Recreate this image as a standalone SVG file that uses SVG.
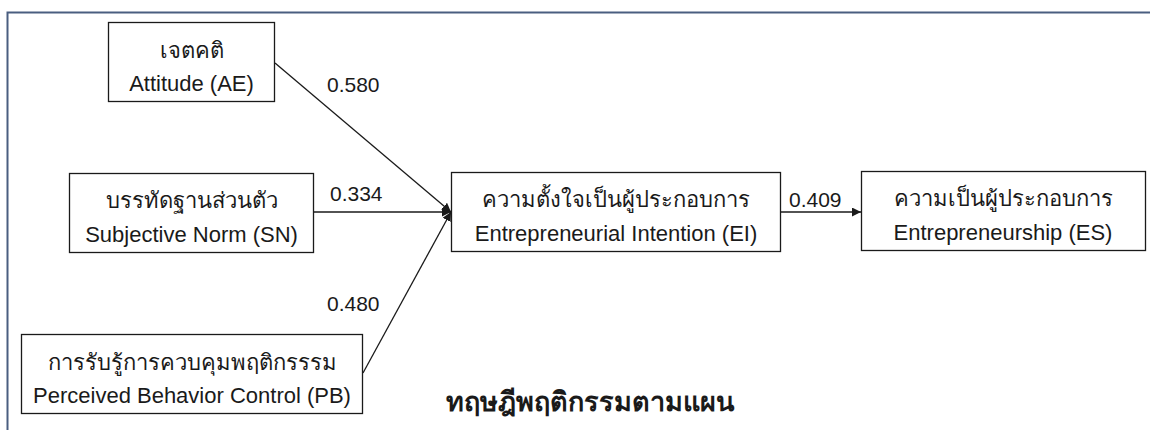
<svg xmlns="http://www.w3.org/2000/svg" width="1150" height="430" viewBox="0 0 1150 430">
<style>
.box{fill:#fff;stroke:#1a1a1a;stroke-width:1.3}
.t{font-family:"Liberation Sans","Noto Sans",sans-serif;font-size:22px;fill:#1a1a1a;text-anchor:middle}
.n{font-family:"Liberation Sans","Noto Sans",sans-serif;font-size:21px;fill:#1a1a1a}
.c{stroke:#1a1a1a;stroke-width:1.3;fill:none;marker-end:url(#ah)}
</style>
<defs>
<marker id="ah" viewBox="0 0 10 10" refX="10" refY="5" markerWidth="9" markerHeight="9" markerUnits="userSpaceOnUse" orient="auto">
<path d="M0,0 L10,5 L0,10 z" fill="#1a1a1a"/>
</marker>
</defs>
<rect width="1150" height="430" fill="#fff"/>
<path d="M7.5,430 V12.5 H1150" fill="none" stroke="#4a5e80" stroke-width="2"/>
<g id="connectors">
<line class="c" x1="275" y1="63" x2="451" y2="212"/>
<line class="c" x1="313" y1="212" x2="451" y2="212"/>
<line class="c" x1="363" y1="373" x2="451" y2="212"/>
<line class="c" x1="781" y1="212" x2="861" y2="212"/>
<text class="n" x="327" y="92">0.580</text>
<text class="n" x="330" y="201">0.334</text>
<text class="n" x="327" y="311">0.480</text>
<text class="n" x="789" y="207">0.409</text>
</g>
<g id="AE">
<rect class="box" x="108.5" y="22.5" width="166" height="79"/>
<text class="t" x="191.5" y="58">เจตคติ</text>
<text class="t" x="191.5" y="91">Attitude (AE)</text>
</g>
<g id="SN">
<rect class="box" x="69.5" y="173.5" width="244" height="79"/>
<text class="t" x="191.5" y="208">บรรทัดฐานส่วนตัว</text>
<text class="t" x="191.5" y="242">Subjective Norm (SN)</text>
</g>
<g id="PB">
<rect class="box" x="21.5" y="334.5" width="341" height="79"/>
<text class="t" x="192" y="370">การรับรู้การควบคุมพฤติกรรรม</text>
<text class="t" x="192" y="403">Perceived Behavior Control (PB)</text>
</g>
<g id="EI">
<rect class="box" x="451.5" y="172.5" width="329" height="79"/>
<text class="t" x="616" y="207">ความตั้งใจเป็นผู้ประกอบการ</text>
<text class="t" x="616" y="241">Entrepreneurial Intention (EI)</text>
</g>
<g id="ES">
<rect class="box" x="861.5" y="171.5" width="284" height="79"/>
<text class="t" x="1003" y="206">ความเป็นผู้ประกอบการ</text>
<text class="t" x="1003" y="240">Entrepreneurship (ES)</text>
</g>
<g id="title">
<text x="590" y="411" font-family="'Liberation Sans','Noto Sans',sans-serif" font-size="27" font-weight="bold" fill="#1a1a1a" text-anchor="middle">ทฤษฎีพฤติกรรมตามแผน</text>
</g>
</svg>
